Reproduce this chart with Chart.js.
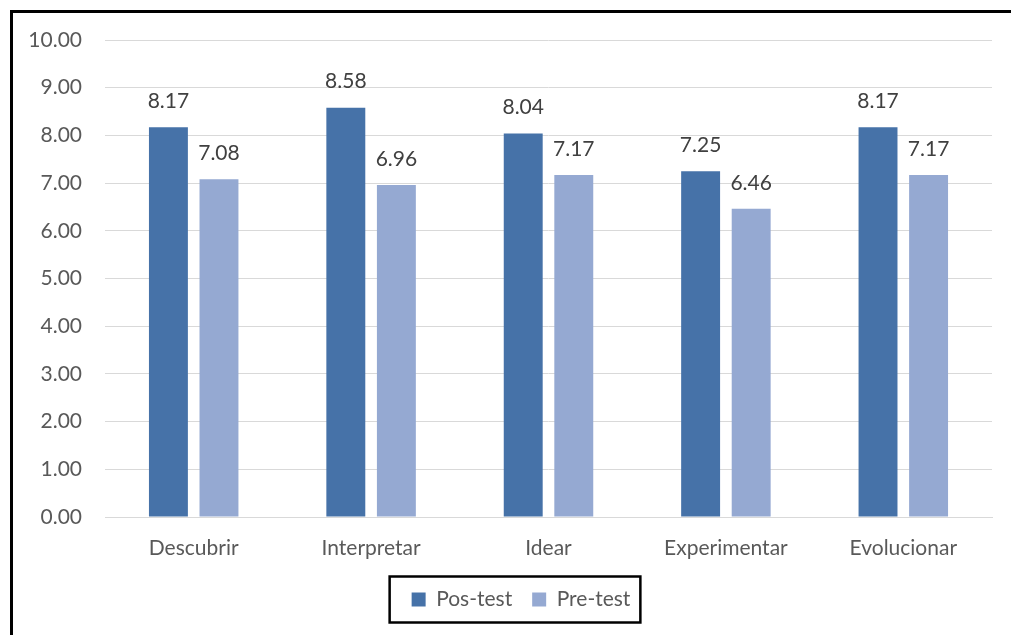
<!DOCTYPE html>
<html>
<head>
<meta charset="utf-8">
<script src="https://cdn.jsdelivr.net/npm/chart.js@4/dist/chart.umd.min.js"></script>
<style>
  html, body { margin: 0; padding: 0; background: #ffffff; }
  #wrap { position: relative; width: 1011px; height: 635px; overflow: hidden; }
  #frame { position: absolute; left: 10px; top: 10px; width: 1100px; height: 700px;
           border-left: 3px solid #000; border-top: 3px solid #000; }
  #c { position: absolute; left: 0; top: 0; }
</style>
</head>
<body>
<div id="wrap">
  <div id="frame"></div>
  <canvas id="c" width="1011" height="635"></canvas>
</div>
<script>
// Dimension scores per phase
const categories = ['Descubrir', 'Interpretar', 'Idear', 'Experimentar', 'Evolucionar'];
const posTest = [8.17, 8.58, 8.04, 7.25, 8.17];
const preTest = [7.08, 6.96, 7.17, 6.46, 7.17];
const seriesNames = ['Pos-test', 'Pre-test'];
const yTicks = [0, 1, 2, 3, 4, 5, 6, 7, 8, 9, 10];

const FONT = 'Lato';
const FONT_SIZE = 21;
const AXIS_COLOR = '#595959';
const LABEL_COLOR = '#404040';

// Value labels above each bar
const valueLabels = {
  id: 'valueLabels',
  afterDatasetsDraw(chart) {
    const ctx = chart.ctx;
    ctx.save();
    ctx.font = FONT_SIZE + 'px ' + FONT;
    ctx.fillStyle = LABEL_COLOR;
    ctx.textAlign = 'center';
    ctx.textBaseline = 'middle';
    chart.data.datasets.forEach((ds, i) => {
      chart.getDatasetMeta(i).data.forEach((bar, j) => {
        ctx.fillText(ds.data[j].toFixed(2), bar.x, bar.y - 26);
      });
    });
    ctx.restore();
  }
};

// Nudge the legend band to the right
const legendShift = {
  id: 'legendShift',
  afterLayout(chart) {
    const lg = chart.legend;
    if (!lg) return;
    lg.left += 25;
    lg.right += 25;
  }
};

// Black outline around the legend
const legendFrame = {
  id: 'legendFrame',
  afterDraw(chart) {
    const boxes = chart.legend && chart.legend.legendHitBoxes;
    if (!boxes || !boxes.length) return;
    const first = boxes[0], last = boxes[boxes.length - 1];
    const cy = first.top + first.height / 2;
    const ctx = chart.ctx;
    ctx.save();
    ctx.strokeStyle = '#000';
    ctx.lineWidth = 2.5;
    ctx.strokeRect(first.left - 22, cy - 23, (last.left + last.width + 10) - (first.left - 22), 46);
    ctx.restore();
  }
};

new Chart(document.getElementById('c'), {
  type: 'bar',
  data: {
    labels: categories,
    datasets: [
      { label: seriesNames[0], data: posTest, backgroundColor: '#4672A8',
        categoryPercentage: 0.57, barPercentage: 0.77 },
      { label: seriesNames[1], data: preTest, backgroundColor: '#95A9D2',
        categoryPercentage: 0.57, barPercentage: 0.77 }
    ]
  },
  options: {
    responsive: false,
    animation: false,
    layout: { padding: { left: 0, right: 19, top: 40, bottom: 15 } },
    plugins: {
      tooltip: { enabled: false },
      legend: {
        position: 'bottom',
        labels: {
          boxWidth: 14, boxHeight: 14, padding: 20,
          color: AXIS_COLOR, font: { family: FONT, size: FONT_SIZE }
        }
      }
    },
    scales: {
      x: {
        grid: { display: false },
        border: { display: true, color: '#d9d9d9' },
        ticks: { color: AXIS_COLOR, font: { family: FONT, size: FONT_SIZE }, padding: 11 },
        afterFit(scale) { scale.height = 52; }
      },
      y: {
        min: 0, max: 10,
        afterBuildTicks(scale) { scale.ticks = yTicks.map(v => ({ value: v })); },
        grid: { color: '#d9d9d9', lineWidth: 1, drawTicks: false },
        border: { display: false },
        ticks: {
          color: AXIS_COLOR, font: { family: FONT, size: FONT_SIZE }, padding: 23,
          callback: v => v.toFixed(2)
        },
        afterFit(scale) { scale.width = 105; }
      }
    }
  },
  plugins: [valueLabels, legendShift, legendFrame]
});
</script>
</body>
</html>
